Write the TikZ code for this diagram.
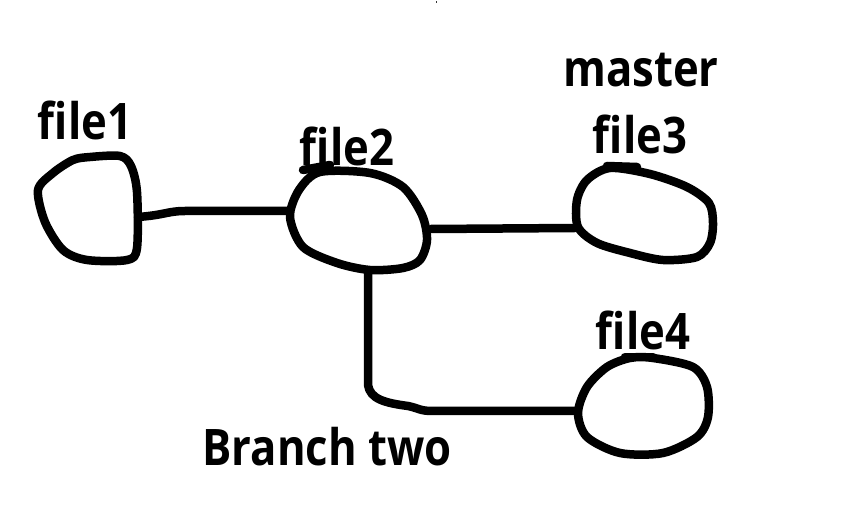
\documentclass[tikz,border=0pt]{standalone}
\usepackage{fontspec}
\setmainfont{Open Sans}
\newcommand{\tallt}[1]{\scalebox{0.97}[1.12]{#1}}
\begin{document}
\begin{tikzpicture}[x=1pt,y=-1pt,
  blob/.style={draw=black,line width=8.5pt,line join=round,line cap=round},
  wire/.style={draw=black,line width=8.5pt,line join=round,line cap=round},
  lbl/.style={anchor=base,inner sep=0pt,font=\fontsize{45}{50}\selectfont\bfseries}]
\useasboundingbox[fill=white] (0,0) rectangle (849,510);
\fill[black!80] (435.5,1) rectangle (437,3);
% blobs
\draw[blob] plot[smooth cycle] coordinates {(38,190) (53,173) (73,160) (90,157) (120,156) (131,166) (137,192) (137,248) (127,260) (87,260) (63,250) (45,222)};
\draw[blob] plot[smooth cycle] coordinates {(320,172) (370,173) (403,187) (422,215) (427,240) (420,260) (403,268) (370,270) (337,263) (303,247) (290,217) (299,190)};
\draw[blob] (303,170) -- (330,165);
\draw[blob] plot[smooth cycle] coordinates {(610,168) (650,174) (687,187) (709,203) (713,223) (710,243) (697,257) (663,260) (630,253) (597,243) (578,227) (577,200) (587,180)};
\draw[blob] (607,166) -- (637,167);
\draw[blob] plot[smooth cycle] coordinates {(630,358) (653,358) (693,367) (707,387) (708,417) (697,437) (663,453) (620,453) (587,437) (578,413) (587,387) (607,367)};
\draw[blob] (625,357) -- (653,357);
% connector ends
\coordinate (f1r) at (138,217);
\coordinate (f2l) at (289,211);
\coordinate (f2r) at (431,229);
\coordinate (f3l) at (575,228);
\coordinate (f2b) at (368,271);
\coordinate (f4l) at (578,411);
\draw[wire] (f1r) .. controls (165,215) and (168,211) .. (185,211) -- (f2l);
\draw[wire] (f2r) -- (f3l);
\draw[wire] (f2b) -- (368,385) .. controls (370,399) and (385,403) .. (408,406) .. controls (418,408) and (420,411) .. (432,411) -- (f4l);
% labels
\node[lbl] (t1) at (85,140) {\tallt{file1}};
\node[lbl] (t2) at (347,166) {\tallt{file2}};
\node[lbl] (tm) at (641,87) {\tallt{master}};
\node[lbl] (t3) at (640,154) {\tallt{file3}};
\node[lbl] (t4) at (643,350) {\tallt{file4}};
\node[lbl] (tb) at (327,465) {\tallt{Branch two}};
\end{tikzpicture}
\end{document}
